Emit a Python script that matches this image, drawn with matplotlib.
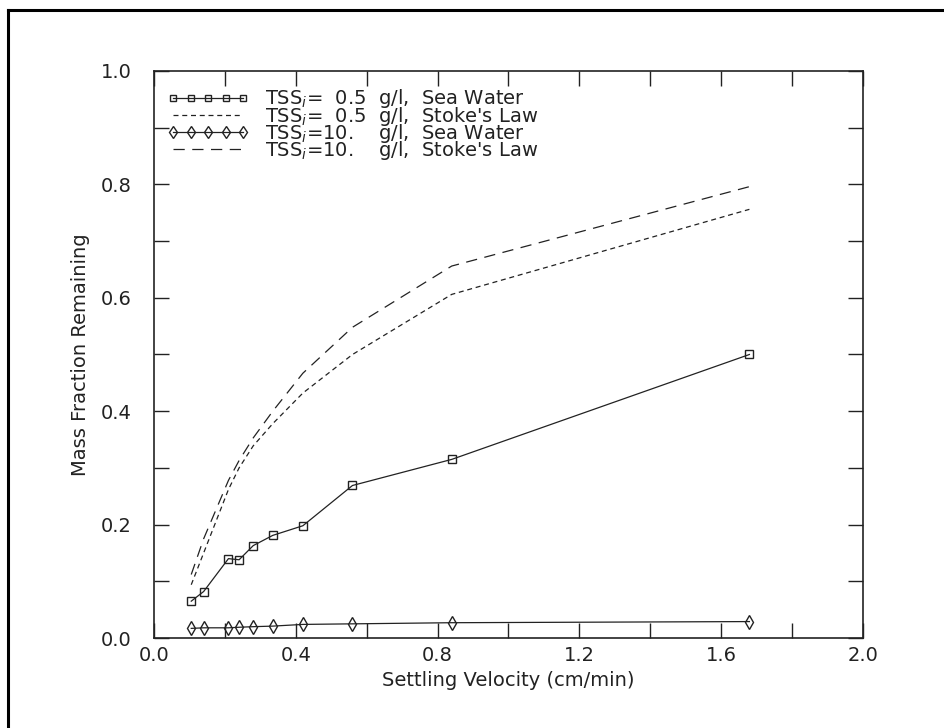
import matplotlib

matplotlib.use("Agg")
import matplotlib.pyplot as plt  # noqa: E402
from matplotlib.lines import Line2D  # noqa: E402
from matplotlib.ticker import MultipleLocator  # noqa: E402

# settling velocity classes (cm/min)
velocity = [0.105, 0.14, 0.21, 0.24, 0.28, 0.335, 0.42, 0.56, 0.84, 1.68]

sea_05 = [0.065, 0.082, 0.140, 0.138, 0.163, 0.181, 0.198, 0.269, 0.315, 0.500]
stokes_05 = [0.094, 0.150, 0.262, 0.300, 0.339, 0.378, 0.432, 0.500, 0.606, 0.756]
sea_10 = [0.017, 0.018, 0.018, 0.019, 0.020, 0.021, 0.024, 0.025, 0.027, 0.029]
stokes_10 = [0.112, 0.175, 0.278, 0.313, 0.353, 0.400, 0.467, 0.548, 0.656, 0.796]

labels = [
    "TSS$_i$=  0.5  g/l,  Sea Water",
    "TSS$_i$=  0.5  g/l,  Stoke's Law",
    "TSS$_i$=10.    g/l,  Sea Water",
    "TSS$_i$=10.    g/l,  Stoke's Law",
]

plt.rcParams["font.family"] = ["DejaVu Sans"]
plt.rcParams["mathtext.fontset"] = "dejavusans"
ink = "#222222"

fig = plt.figure(figsize=(9.45, 7.28), dpi=100)
ax = fig.add_axes([0.163, 0.1236, 0.750, 0.7789])

lw = 0.9
ax.plot(velocity, sea_05, color=ink, lw=lw, marker="s", ms=6, mfc="none", mec=ink, mew=1.0,
        label=labels[0])
ax.plot(velocity, stokes_05, color=ink, lw=lw, dashes=(4, 3), label=labels[1])
ax.plot(velocity, sea_10, color=ink, lw=lw, marker="d", ms=7, mfc="none", mec=ink, mew=1.0,
        label=labels[2])
ax.plot(velocity, stokes_10, color=ink, lw=lw, dashes=(9, 6), label=labels[3])

ax.set_xlim(0, 2.0)
ax.set_ylim(0, 1.0)
ax.xaxis.set_major_locator(MultipleLocator(0.4))
ax.xaxis.set_minor_locator(MultipleLocator(0.2))
ax.yaxis.set_major_locator(MultipleLocator(0.2))
ax.yaxis.set_minor_locator(MultipleLocator(0.1))
ax.xaxis.set_major_formatter(plt.FuncFormatter(lambda v, p: f"{v:.1f}"))
ax.yaxis.set_major_formatter(plt.FuncFormatter(lambda v, p: f"{v:.1f}"))
ax.tick_params(which="both", direction="in", top=True, right=True, length=11, width=1.0,
               colors=ink, labelsize=14)
ax.tick_params(axis="x", pad=6)
ax.tick_params(axis="y", pad=16)
for spine in ax.spines.values():
    spine.set_linewidth(1.2)
    spine.set_color(ink)

ax.set_xlabel("Settling Velocity (cm/min)", fontsize=14, color=ink, labelpad=4)
ax.set_ylabel("Mass Fraction Remaining", fontsize=14, color=ink, labelpad=8)

handles = [
    Line2D([0], [0], color=ink, lw=lw, marker="s", ms=5, mfc="none", mec=ink),
    Line2D([0], [0], color=ink, lw=lw, dashes=(4, 3)),
    Line2D([0], [0], color=ink, lw=lw, marker="d", ms=6, mfc="none", mec=ink),
    Line2D([0], [0], color=ink, lw=lw, dashes=(9, 6)),
]
leg = ax.legend(handles, labels, loc="upper left", bbox_to_anchor=(0.0, 0.995), frameon=False,
                fontsize=14, handlelength=4.2, handletextpad=0.8, labelspacing=-0.3,
                borderaxespad=0.3, numpoints=5)
for t in leg.get_texts():
    t.set_color(ink)

# page border: top and left edges only
fig.add_artist(Line2D([8 / 945, 1.0], [1 - 10 / 728, 1 - 10 / 728], transform=fig.transFigure,
                      color="black", lw=2.2))
fig.add_artist(Line2D([8 / 945, 8 / 945], [0.0, 1 - 10 / 728], transform=fig.transFigure,
                      color="black", lw=2.2))

fig.savefig("out.png", dpi=100)
plt.close(fig)
